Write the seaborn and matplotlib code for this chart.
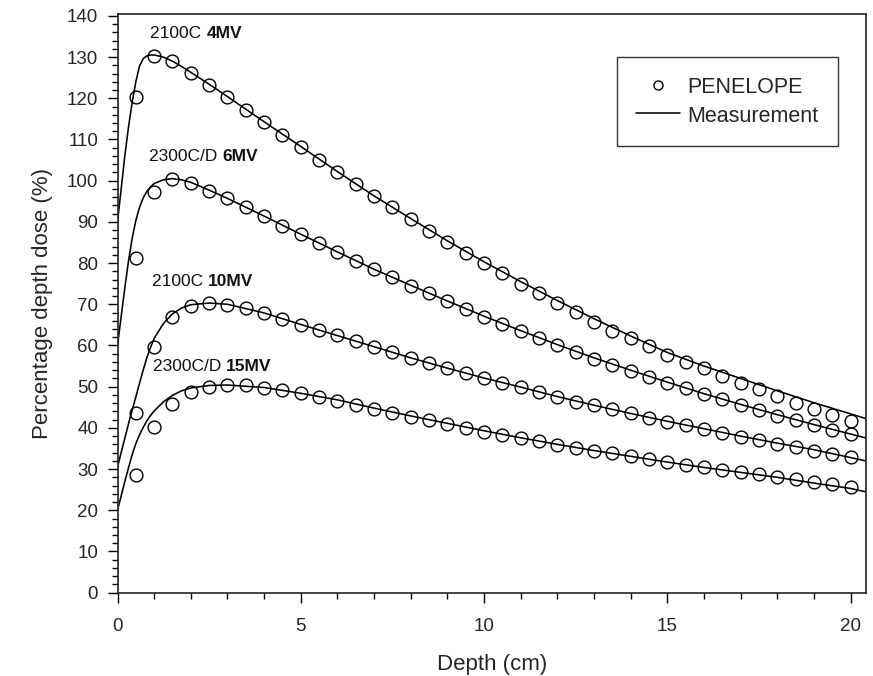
import matplotlib
matplotlib.use("Agg")
import matplotlib.pyplot as plt
from matplotlib.lines import Line2D
from matplotlib.ticker import MultipleLocator
import seaborn as sns
import pandas as pd

# ---------------- data ----------------
DEPTH = [0.5, 1.0, 1.5, 2.0, 2.5, 3.0, 3.5, 4.0, 4.5, 5.0, 5.5, 6.0, 6.5, 7.0, 7.5,
         8.0, 8.5, 9.0, 9.5, 10.0, 10.5, 11.0, 11.5, 12.0, 12.5, 13.0, 13.5, 14.0,
         14.5, 15.0, 15.5, 16.0, 16.5, 17.0, 17.5, 18.0, 18.5, 19.0, 19.5, 20.0]

PEN_4MV = [120.3, 130.3, 129.0, 126.2, 123.3, 120.3, 117.2, 114.2, 111.2, 108.2,
           105.1, 102.1, 99.3, 96.2, 93.5, 90.7, 87.9, 85.2, 82.5, 79.9,
           77.5, 75.0, 72.7, 70.4, 68.1, 65.8, 63.6, 61.8, 59.9, 57.7,
           56.1, 54.5, 52.6, 51.0, 49.4, 47.7, 46.1, 44.5, 43.1, 41.7]
PEN_6MV = [81.2, 97.2, 100.3, 99.5, 97.6, 95.7, 93.5, 91.4, 89.1, 87.0,
           84.8, 82.6, 80.5, 78.5, 76.6, 74.5, 72.7, 70.9, 68.9, 66.9,
           65.2, 63.4, 61.7, 60.1, 58.3, 56.6, 55.2, 53.7, 52.3, 51.0,
           49.6, 48.2, 46.9, 45.6, 44.3, 43.0, 41.8, 40.7, 39.6, 38.5]
PEN_10MV = [43.7, 59.7, 66.8, 69.6, 70.2, 69.9, 69.0, 67.8, 66.5, 65.0,
            63.8, 62.5, 61.1, 59.6, 58.3, 56.9, 55.8, 54.5, 53.3, 52.0,
            51.0, 49.9, 48.6, 47.4, 46.4, 45.5, 44.5, 43.5, 42.5, 41.5,
            40.6, 39.7, 38.8, 37.9, 37.0, 36.2, 35.3, 34.5, 33.7, 32.9]
PEN_15MV = [28.5, 40.1, 45.7, 48.6, 49.9, 50.4, 50.4, 49.8, 49.2, 48.5,
            47.6, 46.6, 45.6, 44.6, 43.6, 42.7, 41.8, 40.9, 40.0, 39.1,
            38.3, 37.5, 36.7, 35.9, 35.2, 34.5, 33.8, 33.1, 32.4, 31.8,
            31.1, 30.5, 29.9, 29.3, 28.7, 28.1, 27.5, 26.9, 26.3, 25.7]

LINE_DEPTH = [0.0, 0.1, 0.2, 0.3, 0.4, 0.5, 0.6, 0.7, 0.8, 0.9, 1.0, 1.25, 1.5,
              1.75, 2.0, 2.5, 3.0, 4.0, 5.0, 6.0, 7.0, 8.0, 9.0, 10.0, 11.0, 12.0,
              13.0, 14.0, 15.0, 16.0, 17.0, 18.0, 19.0, 20.0, 20.4]

MEAS_4MV = [90.0, 98.0, 106.0, 113.0, 119.0, 124.0, 127.8, 129.6, 130.3, 130.5,
            130.5, 130.0, 129.0, 127.7, 126.3, 123.4, 120.4, 114.3, 108.3, 102.2,
            96.3, 90.8, 85.4, 80.3, 75.5, 70.9, 66.5, 62.3, 58.3, 55.0,
            52.0, 49.0, 46.1, 43.4, 42.3]
MEAS_6MV = [60.0, 67.0, 74.0, 80.5, 86.0, 90.3, 93.5, 95.8, 97.4, 98.5,
            99.3, 100.2, 100.5, 100.2, 99.6, 97.7, 95.7, 91.4, 87.0, 82.7,
            78.5, 74.6, 70.8, 67.1, 63.6, 60.2, 57.0, 54.0, 51.1, 48.3,
            45.7, 43.2, 40.8, 38.5, 37.6]
MEAS_10MV = [30.5, 34.0, 37.5, 41.0, 44.3, 47.5, 50.8, 54.0, 57.0, 59.5,
             61.7, 65.3, 67.7, 69.1, 69.9, 70.3, 70.0, 67.9, 65.1, 62.4,
             59.7, 57.0, 54.5, 52.1, 49.9, 47.6, 45.5, 43.5, 41.6, 39.8,
             38.0, 36.3, 34.7, 32.8, 32.0]
MEAS_15MV = [20.0, 23.5, 27.0, 30.3, 33.5, 36.2, 38.3, 40.1, 41.7, 43.0,
             44.1, 46.3, 47.9, 49.0, 49.7, 50.3, 50.4, 49.8, 48.4, 46.8,
             44.8, 42.9, 41.1, 39.3, 37.6, 36.0, 34.5, 33.1, 31.7, 30.4,
             29.2, 28.0, 26.6, 25.3, 24.5]

BEAM_NAMES = ["2100C", "2300C/D", "2100C", "2300C/D"]
BEAM_ENERGIES = ["4MV", "6MV", "10MV", "15MV"]
LABEL_X = [0.90, 0.87, 0.93, 0.96]
LABEL_Y = [135.8, 105.8, 75.5, 54.9]

X_TICKS = [0, 5, 10, 15, 20]
Y_TICKS = list(range(0, 141, 10))

# ---------------- figure ----------------
sns.set_theme(style="ticks")
plt.rcParams["font.family"] = ["Liberation Sans", "DejaVu Sans"]

fig = plt.figure(figsize=(8.73, 6.76), dpi=100)
ax = fig.add_axes([117.5 / 873, 1 - 592.7 / 676, (866 - 117.5) / 873, (592.7 - 14) / 676])

pen_series = [PEN_4MV, PEN_6MV, PEN_10MV, PEN_15MV]
meas_series = [MEAS_4MV, MEAS_6MV, MEAS_10MV, MEAS_15MV]

for meas in meas_series:
    dfl = pd.DataFrame({"depth": LINE_DEPTH, "dose": meas})
    sns.lineplot(data=dfl, x="depth", y="dose", ax=ax, color="black",
                 linewidth=1.15, sort=True, errorbar=None)

for pen in pen_series:
    dfp = pd.DataFrame({"depth": DEPTH, "dose": pen})
    sns.lineplot(data=dfp, x="depth", y="dose", ax=ax, linestyle="",
                 marker="o", markersize=9.2, markerfacecolor="none",
                 markeredgecolor="black", markeredgewidth=1.0, errorbar=None)

for name, en, lx, ly in zip(BEAM_NAMES, BEAM_ENERGIES, LABEL_X, LABEL_Y):
    t = ax.text(lx, ly, name + " ", fontsize=12.5, va="center", ha="left",
                color="#111111")
    ax.annotate(en, xy=(1, 0.5), xycoords=t, va="center", ha="left",
                fontsize=12.5, fontweight="bold", color="#111111")

ax.set_xlim(0, 20.42)
ax.set_ylim(0, 140.45)
ax.set_xticks(X_TICKS)
ax.set_yticks(Y_TICKS)
ax.xaxis.set_minor_locator(MultipleLocator(1))
ax.yaxis.set_minor_locator(MultipleLocator(2))
ax.tick_params(which="major", direction="out", length=7, width=1.0,
               labelsize=13.5, color="black")
ax.tick_params(axis="x", which="major", pad=11)
ax.tick_params(axis="y", which="major", pad=7)
ax.tick_params(which="minor", direction="out", length=4.5, width=1.0,
               color="black")
ax.tick_params(top=False, right=False, which="both")

for side in ["left", "bottom", "top", "right"]:
    ax.spines[side].set_visible(True)
    ax.spines[side].set_linewidth(1.2)
    ax.spines[side].set_color("#222222")

ax.set_xlabel("Depth (cm)", fontsize=16, labelpad=14)
ax.set_ylabel("Percentage depth dose (%)", fontsize=16, labelpad=10)

handles = [
    Line2D([], [], linestyle="", marker="o", markersize=6.5, markerfacecolor="none",
           markeredgecolor="black", markeredgewidth=1.0),
    Line2D([], [], color="black", linewidth=1.15),
]
leg = ax.legend(handles, ["PENELOPE", "Measurement"], loc="upper right",
                bbox_to_anchor=(0.9626, 0.9257), borderaxespad=0,
                frameon=True, fancybox=False, edgecolor="#333333",
                framealpha=1, fontsize=15.5, handlelength=2.0, borderpad=0.9,
                labelspacing=0.3, handleheight=1.0, handletextpad=0.37)
leg.get_frame().set_linewidth(1.0)

fig.savefig("out.png", dpi=100)
